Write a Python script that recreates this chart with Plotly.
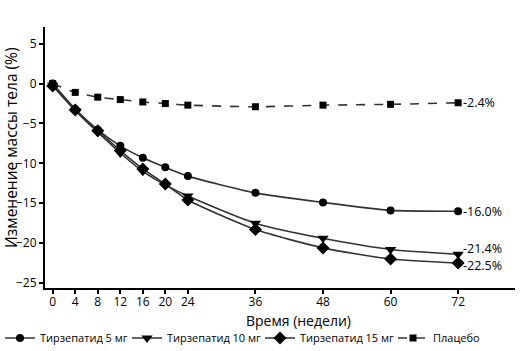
import plotly.graph_objects as go

weeks = [0, 4, 8, 12, 16, 20, 24, 36, 48, 60, 72]
tirz5 = [0, -3.2, -5.8, -7.8, -9.3, -10.5, -11.6, -13.7, -14.9, -15.9, -16.0]
tirz10 = [-0.2, -3.4, -6.1, -8.7, -11.0, -12.7, -14.1, -17.5, -19.4, -20.8, -21.4]
tirz15 = [-0.3, -3.3, -5.9, -8.4, -10.7, -12.6, -14.6, -18.3, -20.6, -22.0, -22.5]
placebo = [0, -1.1, -1.7, -2.0, -2.3, -2.5, -2.7, -2.9, -2.7, -2.6, -2.4]

names = ["Тирзепатид 5 мг", "Тирзепатид 10 мг", "Тирзепатид 15 мг", "Плацебо"]
series = [tirz5, tirz10, tirz15, placebo]
symbols = ["circle", "triangle-down", "diamond", "square"]
msizes = [8, 10, 10, 7]
dashes = ["solid", "solid", "solid", "dash"]
end_labels = ["-16.0%", "-21.4%", "-22.5%", "-2.4%"]
label_shift = [0, 6, -2, 0]
legend_ids = ["legend", "legend2", "legend3", "legend4"]
legend_x_px = [0, 127, 260, 393]

FONT = "Open Sans"
fig = go.Figure()
for nm, ys, sym, ms, ds, lg in zip(names, series, symbols, msizes, dashes, legend_ids):
    fig.add_trace(go.Scatter(
        x=weeks, y=ys, name=nm, mode="lines+markers", legend=lg,
        line=dict(color="#333333", width=1.6, dash=ds, shape="spline", smoothing=0.6),
        marker=dict(symbol=sym, size=ms, color="black"),
    ))

for ys, lab, sh in zip(series, end_labels, label_shift):
    fig.add_annotation(x=weeks[-1], y=ys[-1], text=lab, showarrow=False,
                       xanchor="left", yanchor="middle", xshift=3, yshift=sh,
                       font=dict(family=FONT, size=12.5, color="black"))

# axis titles placed as annotations (offset from centre as in the reference)
fig.add_annotation(text="Изменение массы тела (%)", textangle=-90, showarrow=False,
                   xref="paper", yref="paper", x=(11 - 45) / 470, y=(288 - 148) / 261,
                   xanchor="center", yanchor="middle",
                   font=dict(family=FONT, size=15.5, color="black"))
fig.add_annotation(text="Время (недели)", showarrow=False,
                   xref="paper", yref="paper", x=(298 - 45) / 470, y=(288 - 320) / 261,
                   xanchor="center", yanchor="middle",
                   font=dict(family=FONT, size=14, color="black"))

layout_legends = {}
for lg, xp in zip(legend_ids, legend_x_px):
    layout_legends[lg] = dict(orientation="h", xref="container", yref="container",
                              x=xp / 520, y=1 - 338 / 351, xanchor="left", yanchor="middle",
                              font=dict(family=FONT, size=11, color="black"),
                              itemwidth=30, bgcolor="rgba(0,0,0,0)")

fig.update_layout(
    width=520, height=351,
    margin=dict(l=45, r=5, t=27, b=63, autoexpand=False),
    paper_bgcolor="white", plot_bgcolor="white",
    font=dict(family=FONT, size=12, color="black"),
    showlegend=True,
    **layout_legends,
)
fig.update_xaxes(range=[-1.37, 82.1], tickvals=weeks, ticks="outside", ticklen=4,
                 tickcolor="black", tickwidth=1.5, ticklabelstandoff=-2,
                 showline=True, linecolor="black", linewidth=2, showgrid=False, zeroline=False,
                 tickfont=dict(family=FONT, size=12))
fig.update_yaxes(range=[-25.63, 7.1], tickvals=[-25, -20, -15, -10, -5, 0, 5], ticks="outside",
                 ticklen=4, tickcolor="black", tickwidth=1.5,
                 showline=True, linecolor="black", linewidth=2, showgrid=False, zeroline=False,
                 tickfont=dict(family=FONT, size=12))

fig.write_html("out.html")
